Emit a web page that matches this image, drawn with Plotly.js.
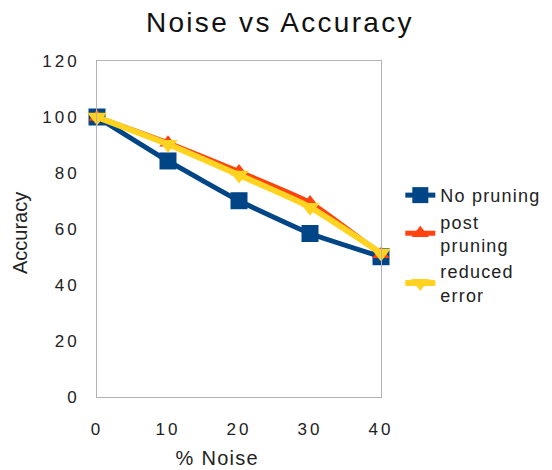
<!DOCTYPE html>
<html><head><meta charset="utf-8">
<script src="https://cdn.plot.ly/plotly-3.0.1.min.js"></script>
<style>
html,body{margin:0;padding:0;background:#fff}
#chart .gtitle{letter-spacing:2.3px}
#chart .xtick text,#chart .ytick text{letter-spacing:3px !important}
#chart .legendtext{letter-spacing:1.2px}
#chart .xtitlean .annotation-text{letter-spacing:1.3px}
</style>
</head><body><div id="chart" style="width:552px;height:470px"></div>
<script>
const noise = [0, 10, 20, 30, 40];
const noPruning = [100, 84.3, 70.1, 58.4, 50.1];
const postPruning = [100, 90.8, 80.5, 69.5, 51];
const reducedError = [100, 90.3, 79.3, 67.8, 51.4];
const seriesNames = ['No pruning', 'post<br>pruning', 'reduced<br>error'];
const tickLabelsX = ['0', '10', '20', '30', '40'];

const font = 'Liberation Sans, Arial, sans-serif';
const traces = [
  {x: noise, y: noPruning, name: seriesNames[0], mode: 'lines+markers',
   line: {color: '#004586', width: 5, shape: 'spline', smoothing: 0.4},
   marker: {symbol: 'square', size: 17, color: '#004586'}, cliponaxis: false},
  {x: noise, y: postPruning, name: seriesNames[1], mode: 'lines+markers',
   line: {color: '#ff420e', width: 5, shape: 'spline', smoothing: 0.4},
   marker: {symbol: 'triangle-up', size: 15, color: '#ff420e'}, cliponaxis: false},
  {x: noise, y: reducedError, name: seriesNames[2], mode: 'lines+markers',
   line: {color: '#ffd320', width: 6, shape: 'spline', smoothing: 0.4},
   marker: {symbol: 'triangle-down', size: 17, color: '#ffd320'}, cliponaxis: false}
];
const layout = {
  width: 552, height: 470,
  margin: {l: 97, r: 171, t: 61, b: 73},
  paper_bgcolor: '#fff', plot_bgcolor: '#fff',
  font: {family: font, color: '#222', size: 17},
  title: {text: 'Noise vs Accuracy', font: {family: font, size: 28, color: '#111'},
          x: 0.507, xanchor: 'center', xref: 'container', y: 0.953, yanchor: 'middle', yref: 'container'},
  xaxis: {range: [0, 40], tickvals: noise, ticktext: tickLabelsX,
          showgrid: false, zeroline: false, showline: true, mirror: true,
          linecolor: '#b3b3b3', linewidth: 1, ticks: 'outside', ticklen: 17, tickcolor: 'rgba(0,0,0,0)',
          tickfont: {size: 17, family: font, color: '#222'}},
  yaxis: {range: [0, 120], dtick: 20, tick0: 0,
          showgrid: false, zeroline: false, showline: true, mirror: true,
          linecolor: '#b3b3b3', linewidth: 1, ticks: 'outside', ticklen: 13, tickcolor: 'rgba(0,0,0,0)',
          tickfont: {size: 17, family: font, color: '#222'}},
  annotations: [
    {text: 'Accuracy', xref: 'paper', yref: 'paper', x: (20 - 97) / 284, y: (397 - 233) / 336,
     xanchor: 'center', yanchor: 'middle', textangle: -90, showarrow: false,
     font: {size: 20, family: font, color: '#222'}},
    {text: '% Noise', xref: 'paper', yref: 'paper', x: (217 - 97) / 284, y: (397 - 458) / 336,
     xanchor: 'center', yanchor: 'middle', showarrow: false,
     font: {size: 20, family: font, color: '#222'}}
  ],
  legend: {x: 1.068, xanchor: 'left', y: 0.655, yanchor: 'top',
           font: {size: 18, family: font, color: '#222'}, tracegroupgap: 0,
           itemwidth: 30, bgcolor: 'rgba(0,0,0,0)'},
  showlegend: true
};
Plotly.newPlot('chart', traces, layout, {displayModeBar: false, staticPlot: true}).then(function () {
  const anns = document.querySelectorAll('#chart .annotation');
  if (anns.length > 1) anns[1].classList.add('xtitlean');
  document.querySelectorAll('#chart .legend .scrollbox, #chart .legend').forEach(function (el) {
    el.removeAttribute('clip-path');
    el.style.clipPath = 'none';
  });
});
</script></body></html>
